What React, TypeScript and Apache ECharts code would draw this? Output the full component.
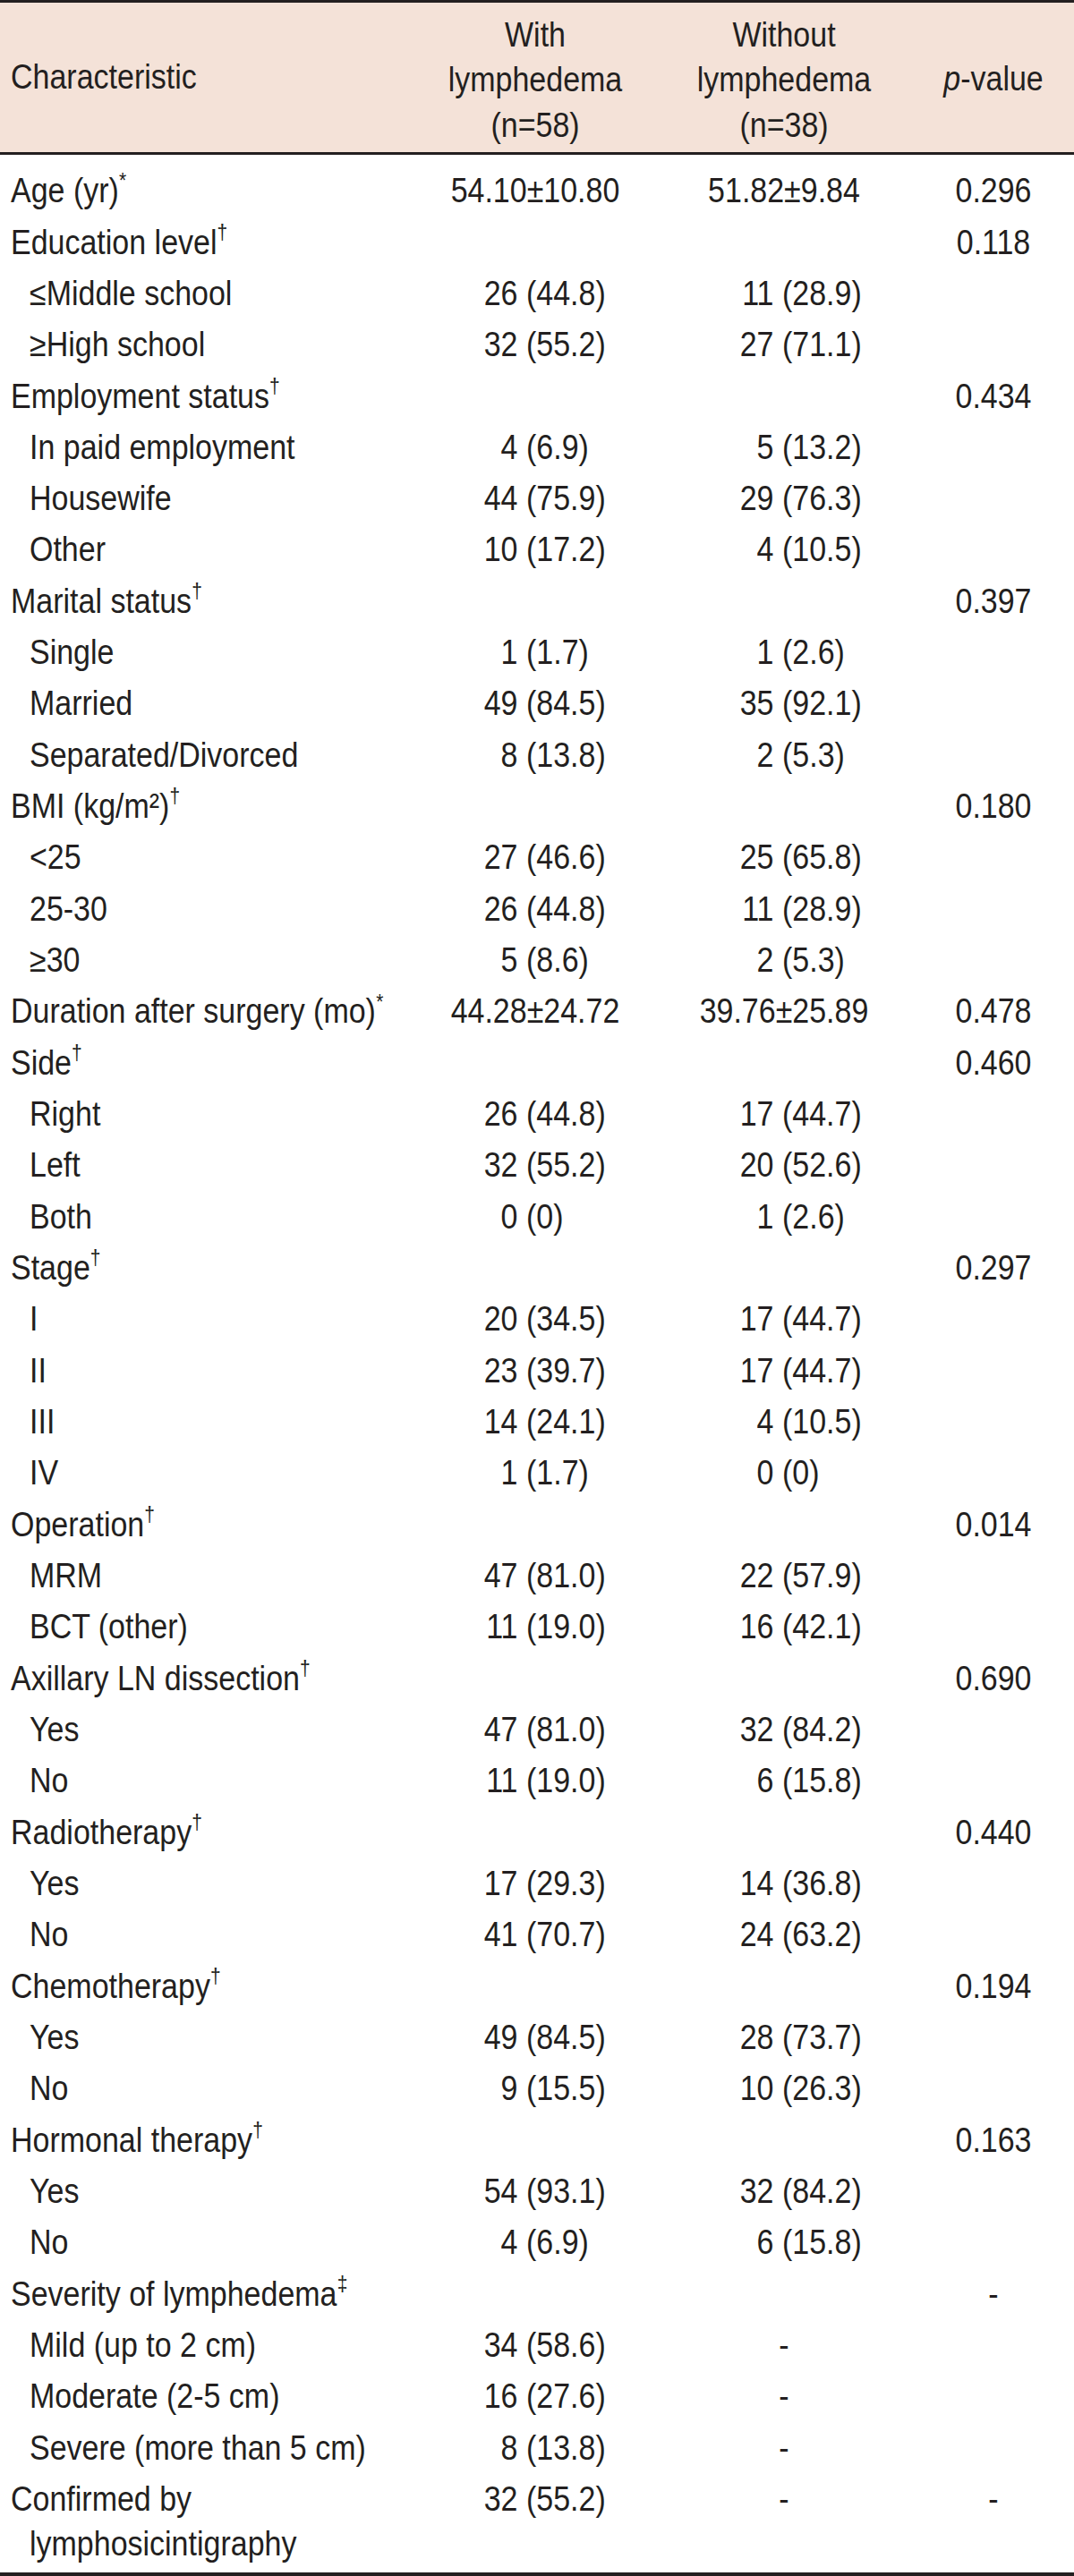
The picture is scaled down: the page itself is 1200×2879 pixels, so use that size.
import React, { useEffect, useRef } from "react";
import * as echarts from "echarts";

// ---------- DATA ----------
const headerLabels = ["Characteristic", "With\nlymphedema\n(n=58)", "Without\nlymphedema\n(n=38)", "p-value"];

const rowLabels = [
  "Age (yr)*",
  "Education level†",
  "≤Middle school",
  "≥High school",
  "Employment status†",
  "In paid employment",
  "Housewife",
  "Other",
  "Marital status†",
  "Single",
  "Married",
  "Separated/Divorced",
  "BMI (kg/m²)†",
  "<25",
  "25-30",
  "≥30",
  "Duration after surgery (mo)*",
  "Side†",
  "Right",
  "Left",
  "Both",
  "Stage†",
  "I",
  "II",
  "III",
  "IV",
  "Operation†",
  "MRM",
  "BCT (other)",
  "Axillary LN dissection†",
  "Yes",
  "No",
  "Radiotherapy†",
  "Yes",
  "No",
  "Chemotherapy†",
  "Yes",
  "No",
  "Hormonal therapy†",
  "Yes",
  "No",
  "Severity of lymphedema‡",
  "Mild (up to 2 cm)",
  "Moderate (2-5 cm)",
  "Severe (more than 5 cm)",
  "Confirmed by\nlymphosicintigraphy",
];

const rowLevels = [0, 0, 1, 1, 0, 1, 1, 1, 0, 1, 1, 1, 0, 1, 1, 1, 0, 0, 1, 1, 1, 0, 1, 1, 1, 1, 0, 1, 1, 0, 1, 1, 0, 1, 1, 0, 1, 1, 0, 1, 1, 0, 1, 1, 1, 0];

const withLymphedema = [
  "54.10±10.80", "", "26 (44.8)", "32 (55.2)",
  "", "4 (6.9)", "44 (75.9)", "10 (17.2)",
  "", "1 (1.7)", "49 (84.5)", "8 (13.8)",
  "", "27 (46.6)", "26 (44.8)", "5 (8.6)",
  "44.28±24.72",
  "", "26 (44.8)", "32 (55.2)", "0 (0)",
  "", "20 (34.5)", "23 (39.7)", "14 (24.1)", "1 (1.7)",
  "", "47 (81.0)", "11 (19.0)",
  "", "47 (81.0)", "11 (19.0)",
  "", "17 (29.3)", "41 (70.7)",
  "", "49 (84.5)", "9 (15.5)",
  "", "54 (93.1)", "4 (6.9)",
  "", "34 (58.6)", "16 (27.6)", "8 (13.8)",
  "32 (55.2)",
];

const withoutLymphedema = [
  "51.82±9.84", "", "11 (28.9)", "27 (71.1)",
  "", "5 (13.2)", "29 (76.3)", "4 (10.5)",
  "", "1 (2.6)", "35 (92.1)", "2 (5.3)",
  "", "25 (65.8)", "11 (28.9)", "2 (5.3)",
  "39.76±25.89",
  "", "17 (44.7)", "20 (52.6)", "1 (2.6)",
  "", "17 (44.7)", "17 (44.7)", "4 (10.5)", "0 (0)",
  "", "22 (57.9)", "16 (42.1)",
  "", "32 (84.2)", "6 (15.8)",
  "", "14 (36.8)", "24 (63.2)",
  "", "28 (73.7)", "10 (26.3)",
  "", "32 (84.2)", "6 (15.8)",
  "", "-", "-", "-",
  "-",
];

const pValues = [
  "0.296", "0.118", "", "",
  "0.434", "", "", "",
  "0.397", "", "", "",
  "0.180", "", "", "",
  "0.478",
  "0.460", "", "", "",
  "0.297", "", "", "", "",
  "0.014", "", "",
  "0.690", "", "",
  "0.440", "", "",
  "0.194", "", "",
  "0.163", "", "",
  "-", "", "", "",
  "-",
];

// ---------- LAYOUT ----------
const W = 1200;
const H = 2879;
const FONT = "'Liberation Sans', Arial, Helvetica, sans-serif";
const FS = 34;
const SCALE_Y = 1.12;
const INK = "#231f20";
const HEADER_BG = "#f4e2d8";

const LABEL_X = [12, 33];
const COL_CENTER = [598, 876, 1110];
const COL_PAREN = [588, 874];
const SPACE_W = 9.5;
const ROW_TOP = 213;
const ROW_STEP = 57.33;
const WRAP_STEP = 50;

const richStyles = {
  sup: { fontSize: 21, lineHeight: 24, verticalAlign: "top", fill: INK, fontFamily: FONT },
  it: { fontStyle: "italic", fontSize: FS, fill: INK, fontFamily: FONT },
};

function markSup(s: string) {
  return s.replace(/([†‡*])/g, "{sup|$1}");
}

function txt(x: number, y: number, text: string, align: string, extra: any = {}) {
  return {
    type: "text",
    silent: true,
    x,
    y,
    scaleY: SCALE_Y,
    style: {
      text,
      fill: INK,
      fontSize: FS,
      fontFamily: FONT,
      lineHeight: 40,
      align,
      verticalAlign: "middle",
      rich: richStyles,
      ...extra,
    },
  };
}

function cell(value: string, col: number, y: number, out: any[]) {
  if (!value) return;
  const m = value.match(/^(\S+) (\(.*\))$/);
  if (m && col < 2) {
    out.push(txt(COL_PAREN[col] - SPACE_W, y, m[1], "right"));
    out.push(txt(COL_PAREN[col], y, m[2], "left"));
  } else {
    out.push(txt(COL_CENTER[col], y, value, "center"));
  }
}

function buildGraphic() {
  const g: any[] = [];
  // header background and rules
  g.push({ type: "rect", silent: true, shape: { x: 0, y: 2, width: W, height: 169 }, style: { fill: HEADER_BG } });
  g.push({ type: "rect", silent: true, shape: { x: 0, y: 0, width: W, height: 3 }, style: { fill: INK } });
  g.push({ type: "rect", silent: true, shape: { x: 0, y: 170, width: W, height: 3 }, style: { fill: INK } });
  g.push({ type: "rect", silent: true, shape: { x: 0, y: 2875, width: W, height: 4 }, style: { fill: INK } });

  // header texts
  g.push(txt(LABEL_X[0], 86, headerLabels[0], "left"));
  g.push(txt(COL_CENTER[0], 89, headerLabels[1], "center", { lineHeight: 45 }));
  g.push(txt(COL_CENTER[1], 89, headerLabels[2], "center", { lineHeight: 45 }));
  g.push(txt(COL_CENTER[2], 88, "{it|p}-value", "center"));

  rowLabels.forEach((label, i) => {
    const y = ROW_TOP + i * ROW_STEP;
    const lines = label.split("\n");
    lines.forEach((ln, k) => {
      const x = k === 0 ? LABEL_X[rowLevels[i]] : LABEL_X[1];
      g.push(txt(x, y + k * WRAP_STEP, markSup(ln), "left"));
    });
    cell(withLymphedema[i], 0, y, g);
    cell(withoutLymphedema[i], 1, y, g);
    cell(pValues[i], 2, y, g);
  });
  return g;
}

export default function App() {
  const ref = useRef<HTMLDivElement>(null);
  useEffect(() => {
    document.body.style.margin = "0";
    const chart = echarts.init(ref.current!, null, { renderer: "svg" });
    chart.setOption({ animation: false, graphic: buildGraphic() });
    return () => chart.dispose();
  }, []);
  return <div ref={ref} style={{ width: W, height: H, background: "#ffffff" }} />;
}
